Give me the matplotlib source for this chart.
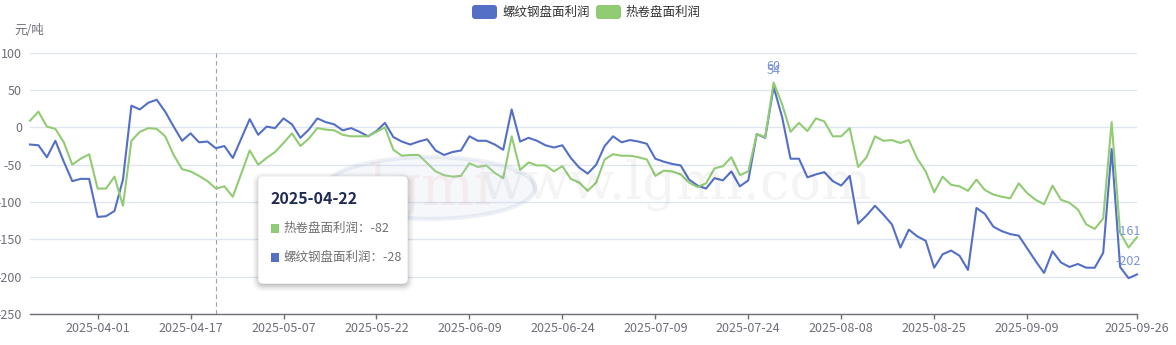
import numpy as np
import pandas as pd
import matplotlib
matplotlib.use("Agg")
import matplotlib.pyplot as plt
from matplotlib.patches import FancyBboxPatch, Rectangle, Ellipse
from matplotlib.transforms import IdentityTransform

plt.rcParams['font.family'] = ['Noto Sans CJK SC', 'DejaVu Sans']
plt.rcParams['axes.unicode_minus'] = False

# ---------------- data ----------------
start_date = '2025-03-20'
end_date = '2025-09-26'
holidays = ['2025-04-04', '2025-05-01', '2025-05-02', '2025-05-05', '2025-06-02']
dates = [d.strftime('%Y-%m-%d') for d in pd.bdate_range(start_date, end_date)
         if d.strftime('%Y-%m-%d') not in holidays]

series_names = ['螺纹钢盘面利润', '热卷盘面利润']

rebar_profit = [
    -23, -24, -40, -18, -46, -72, -69, -69, -120, -119,
    -112, -70, 29, 24, 33, 37, 21, 1, -18, -8,
    -20, -19, -28, -25, -41, -15, 11, -10, 1, -1,
    12, 4, -14, -3, 12, 7, 4, -4, -1, -6,
    -12, -5, 6, -13, -19, -23, -19, -16, -31, -37,
    -33, -31, -12, -18, -18, -23, -30, 24, -19, -14,
    -18, -24, -27, -24, -41, -54, -62, -50, -25, -12,
    -20, -17, -19, -22, -42, -46, -49, -51, -70, -78,
    -82, -68, -71, -59, -79, -71, -9, -14, 54, 14,
    -42, -42, -67, -63, -60, -72, -78, -65, -129, -118,
    -105, -117, -130, -161, -137, -146, -152, -188, -170, -165,
    -172, -191, -108, -116, -133, -139, -143, -145, -162, -179,
    -195, -166, -181, -187, -183, -188, -188, -168, -29, -187,
    -202, -197,
]

hrc_profit = [
    9, 21, 1, -2, -20, -50, -42, -36, -82, -82,
    -66, -105, -18, -6, -1, -2, -12, -37, -56, -59,
    -65, -72, -82, -79, -93, -62, -31, -50, -41, -33,
    -21, -8, -25, -15, -1, -3, -4, -10, -12, -12,
    -12, -6, 0, -30, -38, -37, -37, -48, -59, -64,
    -66, -65, -48, -53, -51, -61, -68, -12, -57, -47,
    -51, -51, -59, -52, -69, -74, -85, -74, -43, -36,
    -38, -38, -40, -43, -65, -58, -59, -63, -74, -80,
    -75, -55, -52, -40, -64, -59, -9, -13, 60, 31,
    -6, 6, -5, 12, 8, -12, -12, -1, -53, -40,
    -12, -18, -17, -21, -17, -42, -59, -87, -66, -77,
    -79, -85, -70, -84, -90, -93, -95, -75, -88, -97,
    -103, -78, -97, -101, -110, -130, -136, -122, 7, -141,
    -161, -147,
]

y_ticks = [100, 50, 0, -50, -100, -150, -200, -250]
y_unit = '元/吨'
tooltip_date = '2025-04-22'

colors = ['#5470c6', '#91cc75']
axis_color = '#6e7079'
grid_color = '#e0e6f1'

# ---------------- figure ----------------
W, H = 1176, 345
fig = plt.figure(figsize=(W / 100, H / 100), dpi=100)
fig.patch.set_facecolor('white')

L, R, T, B = 30, 1137, 52.7, 314
ax = fig.add_axes([L / W, 1 - B / H, (R - L) / W, (B - T) / H])
ax.set_facecolor('none')

x = np.arange(len(dates))
n = len(dates)
ax.set_xlim(0, n - 1)
ax.set_ylim(-250, 100)

def px(xp, yp):
    return (xp, H - yp)

# watermark (faint)
wm = dict(transform=IdentityTransform(), zorder=0)
fig.patches.append(Ellipse(px(430, 188), 210, 62, facecolor='#c9d3e6', alpha=0.18,
                           edgecolor='#9fb0d0', lw=3, **wm))
fig.text(430 / W, 1 - 190 / H, 'lgmi', fontsize=40, family='DejaVu Serif', color='#c44040',
         alpha=0.06, ha='center', va='center', zorder=0)
fig.text(675 / W, 1 - 185 / H, 'www.lgmi.com', fontsize=38, family='DejaVu Serif',
         color='#000000', alpha=0.045, ha='center', va='center', zorder=0)

# grid / axes
ax.set_yticks(y_ticks)
ax.set_yticklabels([str(v) for v in y_ticks])
ax.yaxis.grid(True, color=grid_color, lw=1)
ax.set_axisbelow(True)
for s in ['left', 'right', 'top']:
    ax.spines[s].set_visible(False)
ax.spines['bottom'].set_color(axis_color)
ax.spines['bottom'].set_linewidth(1)
ax.tick_params(axis='y', length=0, pad=5.8, labelsize=9, labelcolor=axis_color)

tick_idx = list(range(8, n - 11, 11)) + [n - 1]
ax.set_xticks(tick_idx)
ax.set_xticklabels([dates[i] for i in tick_idx])
ax.tick_params(axis='x', length=3.5, width=1, color=axis_color, pad=2,
               labelsize=9, labelcolor=axis_color)

# hover line
hi = dates.index(tooltip_date)
ax.axvline(hi, color='#a0a0a8', lw=0.8, ls=(0, (4, 3)), zorder=2)

# lines
ax.plot(x, rebar_profit, color=colors[0], lw=1.5, solid_joinstyle='round', zorder=3, clip_on=False)
ax.plot(x, hrc_profit, color=colors[1], lw=1.5, solid_joinstyle='round', zorder=3, clip_on=False)

# max/min labels
lab_color = '#7d93d6'
for ser in [hrc_profit, rebar_profit]:
    arr = np.array(ser)
    for idx in [int(arr.argmax()), int(arr.argmin())]:
        ax.annotate(str(arr[idx]), (idx, arr[idx]), xytext=(0, 7), textcoords='offset points',
                    ha='center', va='bottom', fontsize=9, color=lab_color, zorder=5,
                    annotation_clip=False)

# y unit
fig.text(29 / W, 1 - 31 / H, y_unit, ha='center', va='center', fontsize=9, color=axis_color)

# legend
leg_items = [(472, series_names[0], colors[0]), (596, series_names[1], colors[1])]
for lx, name, c in leg_items:
    fig.patches.append(FancyBboxPatch(px(lx, 19), 25, 14, boxstyle='round,pad=0,rounding_size=3',
                                      facecolor=c, edgecolor='none', transform=IdentityTransform()))
    fig.text((lx + 30) / W, 1 - 12 / H, name, ha='left', va='center', fontsize=9, color='#333333')

# tooltip
tx0, ty0, tx1, ty1 = 259, 177, 407, 283
for k, a in zip(range(8, 0, -1), np.linspace(0.012, 0.05, 8)):
    fig.patches.append(FancyBboxPatch(px(tx0 - k + 1, ty1 + k + 1), (tx1 - tx0) + 2 * k - 2,
                                      (ty1 - ty0) + 2 * k - 2,
                                      boxstyle='round,pad=0,rounding_size=%d' % (4 + k),
                                      facecolor='black', alpha=a, edgecolor='none',
                                      transform=IdentityTransform(), zorder=8))
fig.patches.append(FancyBboxPatch(px(tx0, ty1), tx1 - tx0, ty1 - ty0,
                                  boxstyle='round,pad=0,rounding_size=4',
                                  facecolor='white', edgecolor='#ffffff', lw=1,
                                  transform=IdentityTransform(), zorder=9))
fig.text(270.5 / W, 1 - 198.5 / H, tooltip_date, ha='left', va='center', fontsize=11.5,
         fontweight='bold', color='#1f2a57', zorder=10)
tip_rows = [(228.5, series_names[1], hrc_profit[hi], colors[1]),
            (257.8, series_names[0], rebar_profit[hi], colors[0])]
for ty, name, v, c in tip_rows:
    fig.patches.append(Rectangle(px(270.5, ty + 4.5), 8, 9, facecolor=c, edgecolor='none',
                                 transform=IdentityTransform(), zorder=10))
    fig.text(283 / W, 1 - ty / H, f'{name}：{v}', ha='left', va='center', fontsize=9,
             color='#707070', zorder=10)

fig.savefig('out.png', dpi=100)
